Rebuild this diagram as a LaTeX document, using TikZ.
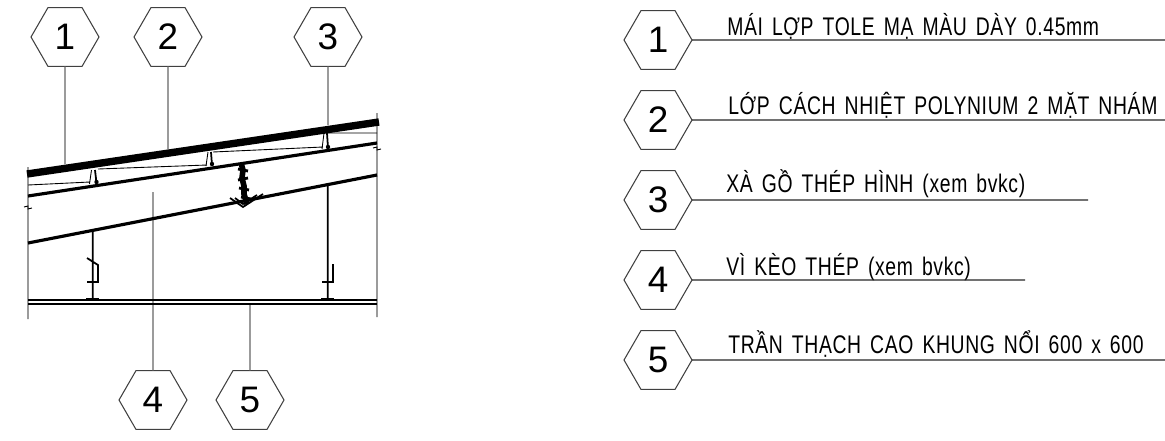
\documentclass[tikz,border=0pt]{standalone}
\usepackage{fontspec}
\setmainfont{Liberation Sans}
\newfontfamily\narrowfont[FakeStretch=0.76,LetterSpace=2.5,WordSpace=1.5]{Liberation Sans}
\usetikzlibrary{shapes.geometric}
\tikzset{
  tagbox/.style={draw=black!75,line width=0.6pt,regular polygon,regular polygon sides=6,minimum size=1.36cm,inner sep=0pt,outer sep=0pt,font=\fontsize{21}{21}\selectfont},
  notetext/.style={anchor=base west,inner sep=0pt,font=\narrowfont\fontsize{14.5}{14.5}\selectfont},
  noteline/.style={line width=0.65pt,black!85},
  leader/.style={line width=0.8pt,black!60},
  chord/.style={line width=1.8pt},
  thinline/.style={line width=0.5pt},
  clip line/.style={line width=1pt}
}
\begin{document}
\begin{tikzpicture}[x=0.02cm,y=-0.02cm]
    \useasboundingbox (0,0) rectangle (1165,440);

    % legend
    \node[tagbox] (tagA) at (658,40) {1};
    \node[tagbox] (tagB) at (658,120) {2};
    \node[tagbox] (tagC) at (658,200) {3};
    \node[tagbox] (tagD) at (658,280) {4};
    \node[tagbox] (tagE) at (658,360) {5};
    \node[notetext] (noteA) at (727,35) {MÁI LỢP TOLE MẠ MÀU DÀY 0.45mm};
    \node[notetext] (noteB) at (728,114) {LỚP CÁCH NHIỆT POLYNIUM 2 MẶT NHÁM};
    \node[notetext] (noteC) at (726,192) {XÀ GỒ THÉP HÌNH (xem bvkc)};
    \node[notetext] (noteD) at (726,275) {VÌ KÈO THÉP (xem bvkc)};
    \node[notetext] (noteE) at (728,353) {TRẦN THẠCH CAO KHUNG NỔI 600 x 600};
    \coordinate (endA) at (1165,40);
    \coordinate (endB) at (1165,120);
    \coordinate (endC) at (1088,200);
    \coordinate (endD) at (1025,280);
    \coordinate (endE) at (1165,360);
    \draw[noteline]
      (tagA.east) -- (endA)
      (tagB.east) -- (endB)
      (tagC.east) -- (endC)
      (tagD.east) -- (endD)
      (tagE.east) -- (endE)
      ;

    % section
    \node[tagbox] (keyA) at (65,37) {1};
    \node[tagbox] (keyB) at (168,37) {2};
    \node[tagbox] (keyC) at (328,37) {3};
    \node[tagbox] (keyD) at (153,400) {4};
    \node[tagbox] (keyE) at (250,400) {5};
    \coordinate (roofA) at (65,164);
    \coordinate (roofB) at (168,149);
    \coordinate (roofC) at (328,125);
    \coordinate (trussD) at (153,192);
    \coordinate (ceilE) at (250,304);
    \draw[leader]
      (keyA.south) -- (roofA)
      (keyB.south) -- (roofB)
      (keyC.south) -- (roofC)
      (keyD.north) -- (trussD)
      (keyE.north) -- (ceilE)
      (28,167) -- (28,319)
      (377,113) -- (377,317)
      ;
    \draw[line width=4.2pt] (27,174) -- (379,122);
    \draw[chord]
      (28,196) -- (377,143)
      (28,243) -- (377,175)
      ;
    \draw[thinline]
      (28,185) -- (90,182)
      (98,169) -- (207,165)
      (213,152) -- (323,147)
      (328,133) -- (377,133)
      (91.5,170) -- (89.5,184)
      (208,152) -- (206,166)
      (324,133) -- (322,149)
      (24,207) -- (28,206) -- (28,209) -- (32,208)
      (373,148) -- (377,147) -- (377,150) -- (381,149)
      ;
    \draw[clip line]
      (95,170) -- (96.5,183)
      (211,152) -- (212,165)
      (327,133) -- (328,148)
      (230,198) -- (243,207) -- (263,194)
      (235,198) -- (243,204) -- (257,195)
      ;
    \fill (96.5,182) circle (2.2) (212,164) circle (2.2) (328,147) circle (2.2);

    % bolts
    \draw[line width=3.2pt]
      (241,163) -- (243,170) -- (242,178) -- (244,186) -- (244,194) -- (247,204)
      ;
    \draw[line width=1.6pt]
      (238,169) -- (248,171)
      (238,180) -- (248,178)
      (239,188) -- (249,190)
      (241,197) -- (251,199)
      ;

    % hangers
    \draw[clip line]
      (92.7,230) -- (92.7,299)
      (327.7,183) -- (327.7,299)
      (87,258) -- (98,265) -- (98,282) -- (87,282)
      (333,264) -- (333,282) -- (322,282)
      ;
    \draw[line width=1.5pt]
      (86,299) -- (99,299)
      (321,299) -- (334,299)
      ;
    \draw[line width=1.1pt]
      (28,300) -- (377,300)
      (28,304) -- (377,304)
      ;
\end{tikzpicture}
\end{document}
